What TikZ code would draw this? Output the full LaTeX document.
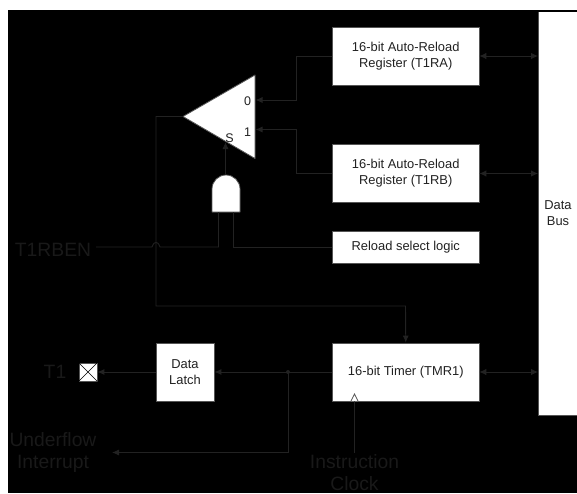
\documentclass[tikz,border=0pt]{standalone}
\usepackage{fontspec}
\setmainfont{Liberation Sans}
\usetikzlibrary{arrows.meta}
\definecolor{wirec}{HTML}{222222}
\definecolor{labelc}{HTML}{191919}
\definecolor{edgec}{HTML}{555555}
\definecolor{textc}{HTML}{222222}
\tikzset{
  px/.style={x=1pt,y=-1pt},
  blockbox/.style={draw=edgec,fill=white,line width=0.8pt,inner sep=0pt,align=center,text=textc,font=\fontsize{12.9}{16}\selectfont},
  wire/.style={draw=wirec,line width=0.9pt},
  arrowwire/.style={wire,-{Latex[length=7pt,width=6pt,color=wirec]}},
  biwire/.style={wire,{Latex[length=7pt,width=6.5pt,color=wirec]}-{Latex[length=7pt,width=6.5pt,color=wirec]}},
  biglabel/.style={text=labelc,inner sep=0pt,align=center,font=\fontsize{19.3}{22.5}\selectfont},
  smalllabel/.style={text=textc,inner sep=0pt,font=\fontsize{12.5}{14}\selectfont},
  symbolshape/.style={draw=edgec,fill=white,line width=0.8pt,line join=round},
}
\begin{document}
\begin{tikzpicture}[px]
\useasboundingbox (0,0) rectangle (577,493);
\fill[white] (0,0) rectangle (577,493);
\fill[black] (8,10) rectangle (577,493);

\node[blockbox,minimum width=146.5pt,minimum height=58pt] (ra) at (405.75,56) {16-bit Auto-Reload\\Register (T1RA)};
\node[blockbox,minimum width=146.5pt,minimum height=58pt] (rb) at (405.75,173.5) {16-bit Auto-Reload\\Register (T1RB)};
\node[blockbox,minimum width=146.5pt,minimum height=32pt] (rs) at (405.75,247) {Reload select logic};
\node[blockbox,minimum width=146.5pt,minimum height=58pt] (tmr) at (405.75,372) {16-bit Timer (TMR1)};
\node[blockbox,minimum width=58pt,minimum height=58pt] (latch) at (185,372) {Data\\Latch};
\fill[white] (538,12) rectangle (577,415);
\draw[edgec,line width=0.8pt] (577,415) -- (538,415) -- (538,12);
\coordinate (busa) at (538,56);
\coordinate (busb) at (538,173.5);
\coordinate (bust) at (538,372);
\node[blockbox,draw=none,fill=none] (bus) at (558,213) {Data\\Bus};

% multiplexer
\draw[symbolshape] (183,116.5) -- (255,75) -- (255,158.5) -- cycle;
\coordinate (muxout) at (183,116.5);
\coordinate (mux0) at (255.5,100);
\coordinate (mux1) at (255.5,129.5);
\coordinate (muxs) at (225.5,142);
\node[smalllabel] (l0) at (247.5,101.5) {0};
\node[smalllabel] (l1) at (247.5,132.5) {1};
\node[smalllabel] (ls) at (229.5,138) {S};

% AND gate
\draw[symbolshape] (212,212) -- (212,189) arc[start angle=180,end angle=360,radius=14] -- (240,212) -- cycle;
\coordinate (andout) at (225.5,175);
\coordinate (andin1) at (218.5,212);
\coordinate (andin2) at (233.5,212);

% pin
\node[draw=edgec,fill=white,line width=0.8pt,minimum size=18pt,inner sep=0pt] (pin) at (88,372) {};
\draw[black,line width=0.6pt] (pin.north west) -- (pin.south east) (pin.north east) -- (pin.south west);

% labels
\node[biglabel] (trb) at (53,250) {T1RBEN};
\node[biglabel] (tone) at (55,372) {T1};
\node[biglabel] (uf) at (53,452.5) {Underflow\\Interrupt};
\node[biglabel] (ic) at (354.5,472.5) {Instruction\\Clock};

% connectors
\draw[arrowwire] (ra.west) -- (296,56) -- (296,100) -- (mux0);
\draw[arrowwire] (rb.west) -- (296,173.5) -- (296,129.5) -- (mux1);
\draw[biwire] (ra.east) -- (busa);
\draw[biwire] (rb.east) -- (busb);
\draw[biwire] (tmr.east) -- (bust);
\draw[arrowwire] (andout) -- (muxs);
\draw[wire] (andin1) -- (218.5,247) -- (160,247) .. controls (158.5,243) and (157.5,242.5) .. (156,242.5) .. controls (154.5,242.5) and (153.5,243) .. (152,247) -- (96,247);
\draw[wire] (andin2) -- (233.5,247) -- (rs.west);
\draw[arrowwire] (muxout) -- (156,116.5) -- (156,306) -- (405.5,306) -- (tmr.north);
\draw[arrowwire] (tmr.west) -- (latch.east);
\draw[arrowwire] (latch.west) -- (pin.east);
\coordinate (junction) at (288,372);
\fill[wirec] (junction) circle (2pt);
\draw[arrowwire] (junction) -- (288,452.5) -- (112,452.5);
\coordinate (clkbase) at (354.5,401);
\draw[wire] (clkbase) -- (354.5,453);
\draw[line width=0.7pt,draw=edgec,fill=white] (351,401) -- (354.5,394) -- (358,401);
\end{tikzpicture}
\end{document}
